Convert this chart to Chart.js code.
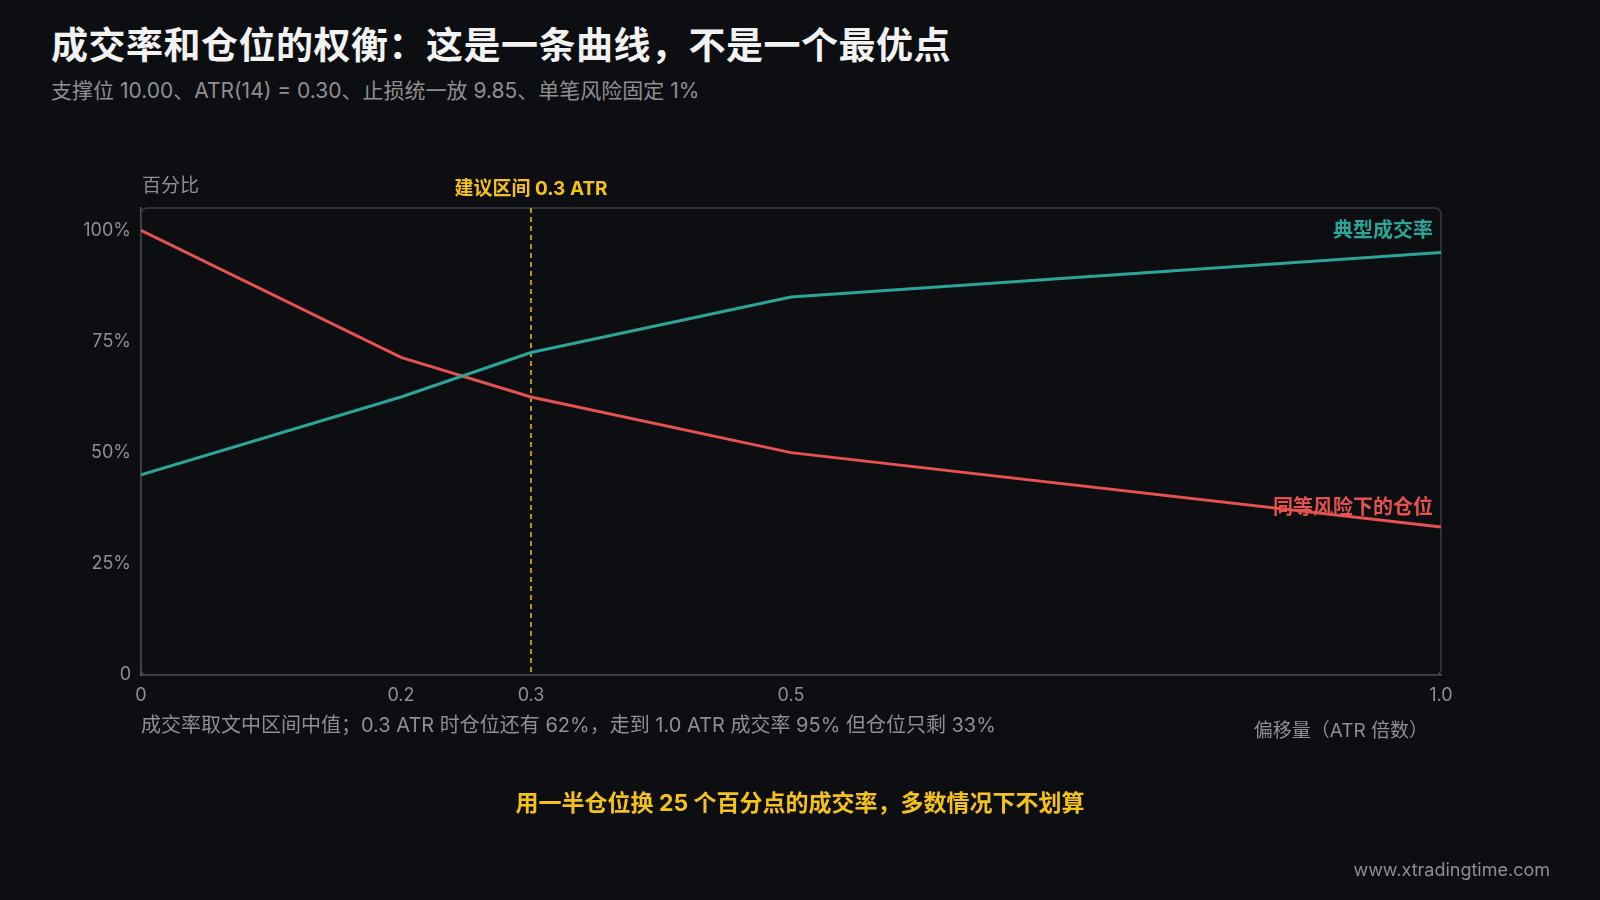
<!DOCTYPE html>
<html><head><meta charset="utf-8">
<script src="https://cdn.jsdelivr.net/npm/chart.js@4"></script>
<style>
html,body{margin:0;padding:0;background:#0d0e12;width:1600px;height:900px;overflow:hidden;font-family:Inter,"Noto Sans CJK SC",sans-serif}
#t{position:absolute;left:51px;top:16px;color:#f2f2f2;font-size:37px;font-weight:700;letter-spacing:0.5px}
#s{position:absolute;left:51px;top:74px;color:#8e8e93;font-size:21px}
canvas{position:absolute;left:0;top:0}
</style></head><body>
<div id="t">成交率和仓位的权衡：这是一条曲线，不是一个最优点</div>
<div id="s">支撑位 10.00、ATR(14) = 0.30、止损统一放 9.85、单笔风险固定 1%</div>
<canvas id="c" width="1600" height="900"></canvas>
<script>
const offsets=[0,0.2,0.3,0.5,1.0];
const fillRate=[45,62.5,72.5,85,95];
const position=[100,71.4,62.5,50,33.3];
const yTicks=[0,25,50,75,100];
const xTicks=[0,0.2,0.3,0.5,1.0];
const teal='#2aa597',red='#e5524f',yellow='#f5c21b',gray='#8e8e93',axis='#55575d';
const F='Inter,"Noto Sans CJK SC",sans-serif';
const deco={id:'deco',
 beforeDatasetsDraw(c){const {ctx,chartArea:a,scales:{x}}=c;ctx.save();
  ctx.strokeStyle='#3a3c42';ctx.lineWidth=1.5;ctx.beginPath();ctx.roundRect(a.left,a.top,a.right-a.left,a.bottom-a.top,6);ctx.stroke();
  const px=x.getPixelForValue(0.3);ctx.strokeStyle=yellow;ctx.setLineDash([5,4]);ctx.lineWidth=1.5;ctx.beginPath();ctx.moveTo(px,a.top);ctx.lineTo(px,a.bottom);ctx.stroke();ctx.restore();},
 afterDraw(c){const {ctx,chartArea:a,scales:{x}}=c;ctx.save();ctx.textBaseline='middle';
  const t=(s,X,Y,col,sz,w,al)=>{ctx.font=`${w} ${sz}px ${F}`;ctx.fillStyle=col;ctx.textAlign=al;ctx.fillText(s,X,Y);};
  t('百分比',142,186,gray,19,400,'left');
  t('建议区间 0.3 ATR',x.getPixelForValue(0.3),189,yellow,19,700,'center');
  t('典型成交率',a.right-8,231,teal,20,700,'right');
  t('同等风险下的仓位',a.right-8,508,red,20,700,'right');
  t('成交率取文中区间中值；0.3 ATR 时仓位还有 62%，走到 1.0 ATR 成交率 95% 但仓位只剩 33%',141,726,gray,20,400,'left');
  t('偏移量（ATR 倍数）',1428,731,gray,19,400,'right');
  t('用一半仓位换 25 个百分点的成交率，多数情况下不划算',800,804,yellow,23,700,'center');
  t('www.xtradingtime.com',1550,871,gray,18,400,'right');
  ctx.restore();}};
new Chart(document.getElementById('c'),{type:'line',
 data:{datasets:[
  {data:offsets.map((v,i)=>({x:v,y:fillRate[i]})),borderColor:teal,borderWidth:3,pointRadius:0,tension:0},
  {data:offsets.map((v,i)=>({x:v,y:position[i]})),borderColor:red,borderWidth:3,pointRadius:0,tension:0}]},
 options:{responsive:false,animation:false,events:[],
  layout:{padding:{left:81,right:159,top:208,bottom:185}},
  plugins:{legend:{display:false},tooltip:{enabled:false}},
  scales:{
   x:{type:'linear',min:0,max:1,afterBuildTicks:s=>{s.ticks=xTicks.map(v=>({value:v}));},afterFit:s=>{s.height=40;},
    grid:{display:false,drawTicks:true,tickLength:6,color:axis},border:{color:axis,width:1.5},
    ticks:{color:gray,font:{size:18,family:F},padding:4,maxRotation:0,autoSkip:false,callback:v=>v===0?'0':(v===1?'1.0':String(v))}},
   y:{min:0,max:105,afterBuildTicks:s=>{s.ticks=yTicks.map(v=>({value:v}));},afterFit:s=>{s.width=60;},
    grid:{display:false,drawTicks:true,tickLength:6,color:axis},border:{color:axis,width:1.5},
    ticks:{color:gray,font:{size:18,family:F},padding:4,callback:v=>v===0?'0':v+'%'}}}},
 plugins:[deco]});
</script></body></html>
